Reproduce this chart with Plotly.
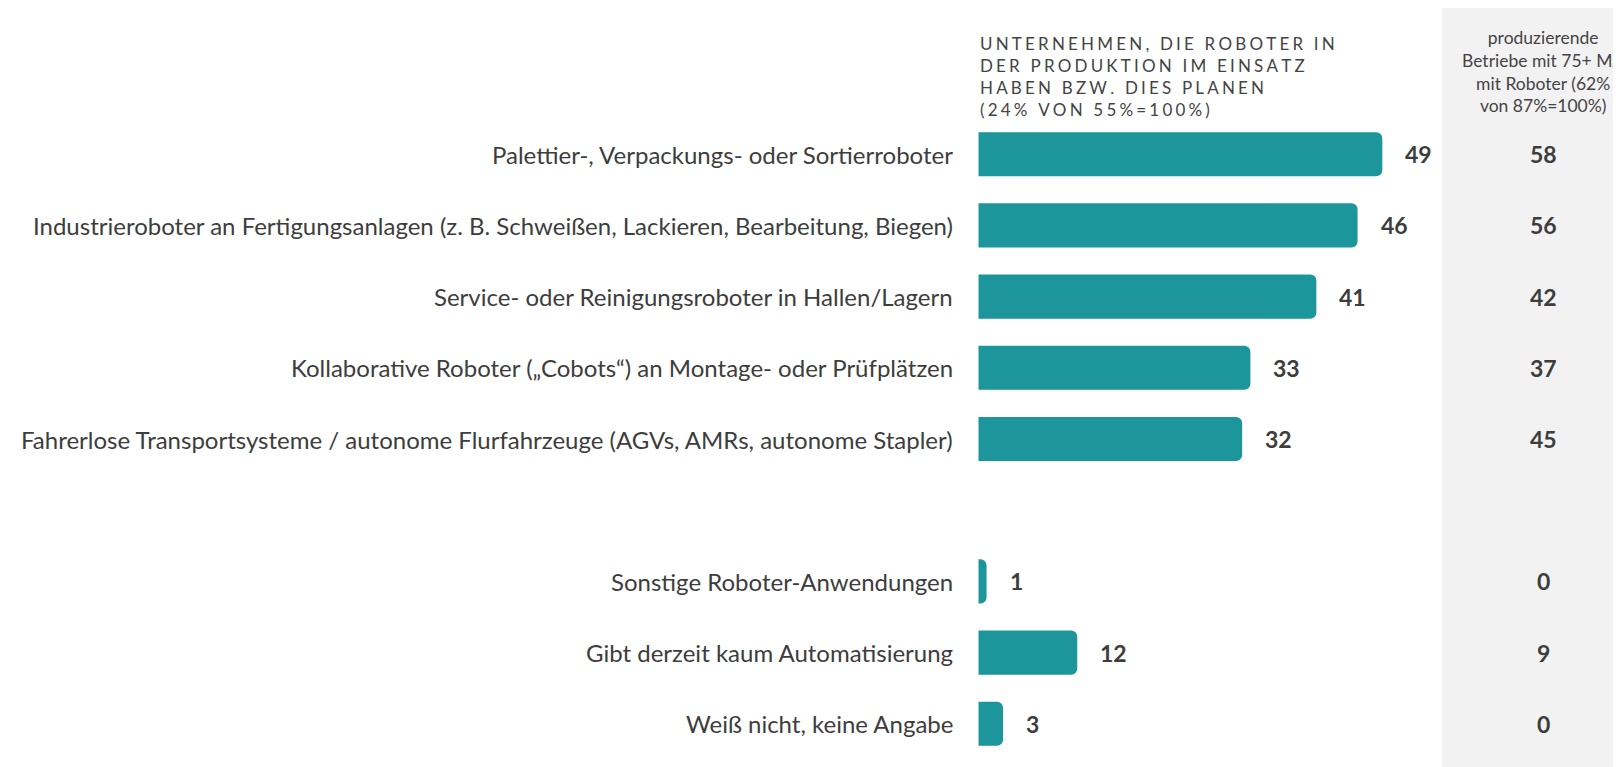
import plotly.graph_objects as go

categories = [
    "Palettier-, Verpackungs- oder Sortierroboter",
    "Industrieroboter an Fertigungsanlagen (z. B. Schweißen, Lackieren, Bearbeitung, Biegen)",
    "Service- oder Reinigungsroboter in Hallen/Lagern",
    "Kollaborative Roboter („Cobots“) an Montage- oder Prüfplätzen",
    "Fahrerlose Transportsysteme / autonome Flurfahrzeuge (AGVs, AMRs, autonome Stapler)",
    "Sonstige Roboter-Anwendungen",
    "Gibt derzeit kaum Automatisierung",
    "Weiß nicht, keine Angabe",
]
slots = [0, 1, 2, 3, 4, 6, 7, 8]
values_main = [49, 46, 41, 33, 32, 1, 12, 3]
values_side = [58, 56, 42, 37, 45, 0, 9, 0]

header_left = ["UNTERNEHMEN, DIE ROBOTER IN", "DER PRODUKTION IM EINSATZ",
               "HABEN BZW. DIES PLANEN", "(24% VON 55%=100%)"]
header_right = ["produzierende", "Betriebe mit 75+ MA", "mit Roboter (62%", "von 87%=100%)"]

W, H = 1621, 767
TEAL = "#1c959b"
TXT = "#3d3d3d"


def spaced(s):
    return "\u2009\u200a".join(list(s))


fig = go.Figure()
fig.add_trace(go.Bar(
    x=values_main, y=slots, orientation="h",
    marker=dict(color=TEAL, cornerradius=6, line=dict(width=0)),
    width=0.62, hoverinfo="skip",
))

# gray side panel
fig.add_shape(type="rect", xref="paper", yref="paper",
              x0=1434 / W, x1=1.0, y0=0, y1=1.0,
              fillcolor="#f2f2f2", line=dict(width=0), layer="below")

annotations = []
for cat, s, v, sv in zip(categories, slots, values_main, values_side):
    annotations.append(dict(x=0, y=s, xref="x", yref="y", text=cat,
                            xanchor="right", yanchor="middle", xshift=-23,
                            showarrow=False, font=dict(size=24, color=TXT, family="Lato")))
    annotations.append(dict(x=v, y=s, xref="x", yref="y", text=f"<b>{v}</b>",
                            xanchor="left", yanchor="middle", xshift=21,
                            showarrow=False, font=dict(size=23, color=TXT, family="Lato")))
    annotations.append(dict(x=1535 / W, y=s, xref="paper", yref="y", text=f"<b>{sv}</b>",
                            xanchor="center", yanchor="middle",
                            showarrow=False, font=dict(size=23, color=TXT, family="Lato")))

annotations.append(dict(x=970 / W, y=1 - 23 / H, xref="paper", yref="paper",
                        text="<br>".join(spaced(l) for l in header_left),
                        xanchor="left", yanchor="top", align="left", showarrow=False,
                        font=dict(size=17, color="#444444", family="Lato")))
annotations.append(dict(x=1535 / W, y=1 - 17 / H, xref="paper", yref="paper",
                        text="<br>".join(header_right),
                        xanchor="center", yanchor="top", align="center", showarrow=False,
                        font=dict(size=17.5, color="#444444", family="Lato")))

x0px, ppu = 970.3, 8.245
xmax = 56
x1px = x0px + xmax * ppu
ystep, ytop = 71.2, 146.2
r_min = -ytop / ystep
r_max = r_min + H / ystep

fig.update_layout(
    width=W, height=H,
    margin=dict(l=0, r=0, t=0, b=0),
    paper_bgcolor="white", plot_bgcolor="rgba(0,0,0,0)",
    showlegend=False,
    font=dict(family="Lato", color=TXT),
    xaxis=dict(domain=[x0px / W, x1px / W], range=[0, xmax], visible=False, fixedrange=True),
    yaxis=dict(domain=[0, 1], range=[r_max, r_min], visible=False, fixedrange=True),
    annotations=annotations,
)

fig.write_html("out.html")
